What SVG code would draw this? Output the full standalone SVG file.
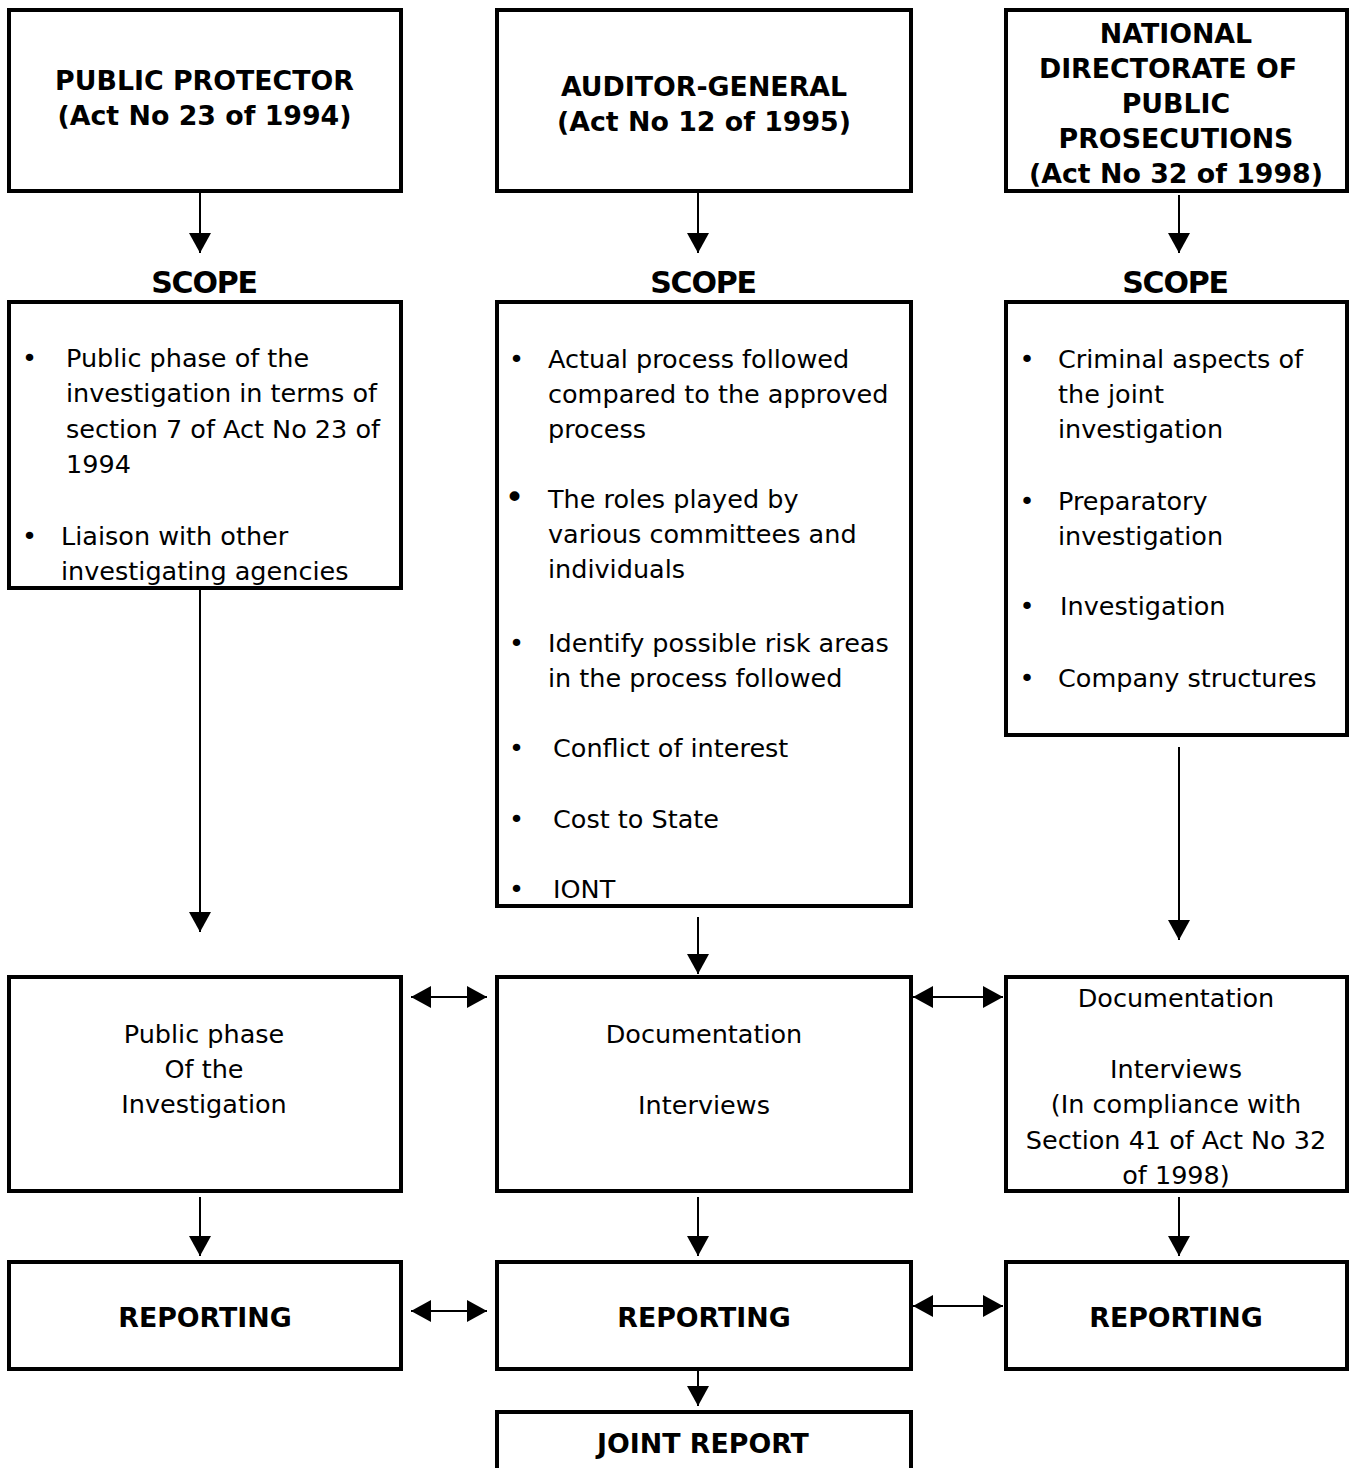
<svg xmlns="http://www.w3.org/2000/svg" width="1353" height="1468" viewBox="0 0 1353 1468">
<style>
  .box { fill: #fff; stroke: #000; stroke-width: 4; }
  .t { font-family: 'DejaVu Sans', Verdana, sans-serif; font-size: 25.5px; fill: #000; }
  .h { font-family: 'DejaVu Sans', Verdana, sans-serif; font-size: 26.8px; font-weight: bold; fill: #000; text-anchor: middle; }
  .s { font-family: 'DejaVu Sans', Verdana, sans-serif; font-size: 30px; font-weight: bold; fill: #000; text-anchor: middle; letter-spacing: -1.2px; }
  .c { text-anchor: middle; }
  .ln { stroke: #000; stroke-width: 2; fill: none; }
</style>
<defs>
  <marker id="ah" markerUnits="userSpaceOnUse" markerWidth="20" markerHeight="22" refX="20" refY="11" orient="auto-start-reverse">
    <path d="M0,0 L20,11 L0,22 Z" fill="#000"/>
  </marker>
</defs>
<rect x="0" y="0" width="1353" height="1468" fill="#fff"/>

<g id="connectors">
  <line class="ln" x1="200" y1="192" x2="200" y2="253" marker-end="url(#ah)"/>
  <line class="ln" x1="698" y1="192" x2="698" y2="253" marker-end="url(#ah)"/>
  <line class="ln" x1="1179" y1="195" x2="1179" y2="253" marker-end="url(#ah)"/>
  <line class="ln" x1="200" y1="590" x2="200" y2="932" marker-end="url(#ah)"/>
  <line class="ln" x1="698" y1="917" x2="698" y2="974" marker-end="url(#ah)"/>
  <line class="ln" x1="1179" y1="747" x2="1179" y2="940" marker-end="url(#ah)"/>
  <line class="ln" x1="200" y1="1197" x2="200" y2="1256" marker-end="url(#ah)"/>
  <line class="ln" x1="698" y1="1197" x2="698" y2="1256" marker-end="url(#ah)"/>
  <line class="ln" x1="1179" y1="1197" x2="1179" y2="1256" marker-end="url(#ah)"/>
  <line class="ln" x1="698" y1="1371" x2="698" y2="1406" marker-end="url(#ah)"/>
  <line class="ln" x1="411" y1="997" x2="487" y2="997" marker-start="url(#ah)" marker-end="url(#ah)"/>
  <line class="ln" x1="913" y1="997" x2="1003" y2="997" marker-start="url(#ah)" marker-end="url(#ah)"/>
  <line class="ln" x1="411" y1="1311" x2="487" y2="1311" marker-start="url(#ah)" marker-end="url(#ah)"/>
  <line class="ln" x1="913" y1="1306" x2="1003" y2="1306" marker-start="url(#ah)" marker-end="url(#ah)"/>
</g>

<g id="public-protector">
  <rect class="box" x="9" y="10" width="392" height="181"/>
  <text class="h" x="204.5" y="90">PUBLIC PROTECTOR</text>
  <text class="h" x="204.5" y="125">(Act No 23 of 1994)</text>
</g>
<g id="auditor-general">
  <rect class="box" x="497" y="10" width="414" height="181"/>
  <text class="h" x="704" y="96">AUDITOR-GENERAL</text>
  <text class="h" x="704" y="131">(Act No 12 of 1995)</text>
</g>
<g id="ndpp">
  <rect class="box" x="1006" y="10" width="341" height="181"/>
  <text class="h" x="1176" y="43">NATIONAL</text>
  <text class="h" x="1168" y="78">DIRECTORATE OF</text>
  <text class="h" x="1176" y="113">PUBLIC</text>
  <text class="h" x="1176" y="148">PROSECUTIONS</text>
  <text class="h" x="1176" y="183">(Act No 32 of 1998)</text>
</g>

<g id="scope-label-1"><text class="s" x="204" y="293">SCOPE</text></g>
<g id="scope-label-2"><text class="s" x="703" y="293">SCOPE</text></g>
<g id="scope-label-3"><text class="s" x="1175" y="293">SCOPE</text></g>

<g id="scope-pp">
  <rect class="box" x="9" y="302" width="392" height="286"/>
  <text class="t" x="22" y="367">•</text>
  <text class="t" x="66" y="367">Public phase of the</text>
  <text class="t" x="66" y="402">investigation in terms of</text>
  <text class="t" x="66" y="438">section 7 of Act No 23 of</text>
  <text class="t" x="66" y="473">1994</text>
  <text class="t" x="22" y="545">•</text>
  <text class="t" x="61" y="545">Liaison with other</text>
  <text class="t" x="61" y="580">investigating agencies</text>
</g>

<g id="scope-ag">
  <rect class="box" x="497" y="302" width="414" height="604"/>
  <text class="t" x="509" y="368">•</text>
  <text class="t" x="548" y="368">Actual process followed</text>
  <text class="t" x="548" y="403">compared to the approved</text>
  <text class="t" x="548" y="438">process</text>
  <text class="t" x="504.5" y="509" style="font-size:34px">•</text>
  <text class="t" x="548" y="508">The roles played by</text>
  <text class="t" x="548" y="543">various committees and</text>
  <text class="t" x="548" y="578">individuals</text>
  <text class="t" x="509" y="652">•</text>
  <text class="t" x="548" y="652">Identify possible risk areas</text>
  <text class="t" x="548" y="687">in the process followed</text>
  <text class="t" x="509" y="757">•</text>
  <text class="t" x="553" y="757">Conflict of interest</text>
  <text class="t" x="509" y="828">•</text>
  <text class="t" x="553" y="828">Cost to State</text>
  <text class="t" x="509" y="898">•</text>
  <text class="t" x="553" y="898">IONT</text>
</g>

<g id="scope-ndpp">
  <rect class="box" x="1006" y="302" width="341" height="433"/>
  <text class="t" x="1019.5" y="368">•</text>
  <text class="t" x="1058" y="368">Criminal aspects of</text>
  <text class="t" x="1058" y="403">the joint</text>
  <text class="t" x="1058" y="438">investigation</text>
  <text class="t" x="1019.5" y="510">•</text>
  <text class="t" x="1058" y="510">Preparatory</text>
  <text class="t" x="1058" y="545">investigation</text>
  <text class="t" x="1019.5" y="615">•</text>
  <text class="t" x="1060" y="615">Investigation</text>
  <text class="t" x="1019.5" y="687">•</text>
  <text class="t" x="1058" y="687">Company structures</text>
</g>

<g id="process-pp">
  <rect class="box" x="9" y="977" width="392" height="214"/>
  <text class="t c" x="204" y="1043">Public phase</text>
  <text class="t c" x="204" y="1078">Of the</text>
  <text class="t c" x="204" y="1113">Investigation</text>
</g>
<g id="process-ag">
  <rect class="box" x="497" y="977" width="414" height="214"/>
  <text class="t c" x="704" y="1043">Documentation</text>
  <text class="t c" x="704" y="1114">Interviews</text>
</g>
<g id="process-ndpp">
  <rect class="box" x="1006" y="977" width="341" height="214"/>
  <text class="t c" x="1176" y="1007">Documentation</text>
  <text class="t c" x="1176" y="1078">Interviews</text>
  <text class="t c" x="1176" y="1113">(In compliance with</text>
  <text class="t c" x="1176" y="1149">Section 41 of Act No 32</text>
  <text class="t c" x="1176" y="1184">of 1998)</text>
</g>

<g id="reporting-pp">
  <rect class="box" x="9" y="1262" width="392" height="107"/>
  <text class="h" x="205" y="1327">REPORTING</text>
</g>
<g id="reporting-ag">
  <rect class="box" x="497" y="1262" width="414" height="107"/>
  <text class="h" x="704" y="1327">REPORTING</text>
</g>
<g id="reporting-ndpp">
  <rect class="box" x="1006" y="1262" width="341" height="107"/>
  <text class="h" x="1176" y="1327">REPORTING</text>
</g>

<g id="joint-report">
  <rect class="box" x="497" y="1412" width="414" height="100"/>
  <text class="h" x="703" y="1453">JOINT REPORT</text>
</g>
</svg>
